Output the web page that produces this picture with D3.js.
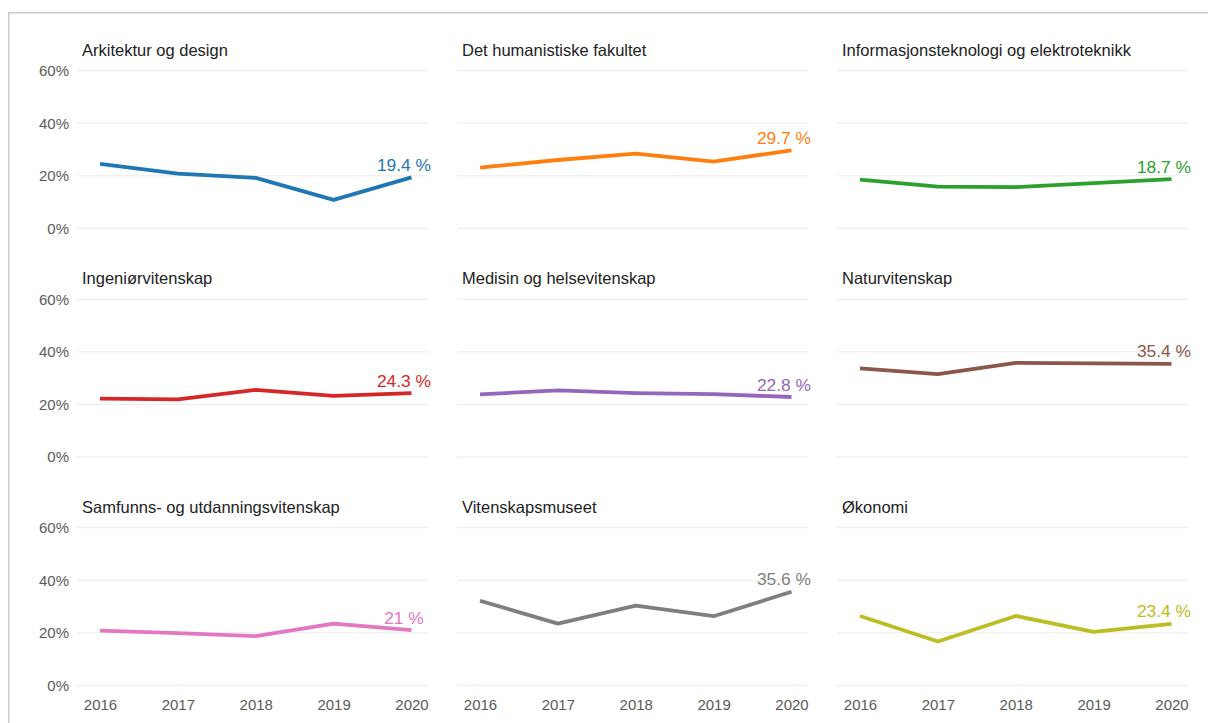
<!DOCTYPE html>
<html>
<head>
<meta charset="utf-8">
<script src="https://cdn.jsdelivr.net/npm/d3@7"></script>
<style>
  html, body { margin: 0; padding: 0; background: #fff; }
  svg { display: block; font-family: "Liberation Sans", Arial, Helvetica, sans-serif; }
</style>
</head>
<body>
<svg id="chart" width="1208" height="723"></svg>
<script>
// Share (%) per faculty, 2016–2020
const years = ["2016", "2017", "2018", "2019", "2020"];
const faculties = [
  "Arkitektur og design",
  "Det humanistiske fakultet",
  "Informasjonsteknologi og elektroteknikk",
  "Ingeniørvitenskap",
  "Medisin og helsevitenskap",
  "Naturvitenskap",
  "Samfunns- og utdanningsvitenskap",
  "Vitenskapsmuseet",
  "Økonomi"
];
const arkitektur     = [24.5, 20.8, 19.2, 10.8, 19.4];
const humanistiske   = [23.1, 26.0, 28.4, 25.4, 29.7];
const informasjon    = [18.5, 15.9, 15.7, 17.2, 18.7];
const ingenior       = [22.2, 21.9, 25.5, 23.2, 24.3];
const medisin        = [23.8, 25.3, 24.3, 23.9, 22.8];
const naturvitenskap = [33.7, 31.5, 35.8, 35.6, 35.4];
const samfunns       = [20.8, 19.9, 18.7, 23.5, 21.0];
const museet         = [32.2, 23.5, 30.3, 26.3, 35.6];
const okonomi        = [26.4, 16.7, 26.4, 20.3, 23.4];
const yTicks = [0, 20, 40, 60];
const yTickLabels = ["0%", "20%", "40%", "60%"];

const seriesValues = [arkitektur, humanistiske, informasjon, ingenior, medisin,
                      naturvitenskap, samfunns, museet, okonomi];
const colors = d3.schemeCategory10;

const svg = d3.select("#chart");

// outer frame
svg.append("rect")
  .attr("x", 8.75).attr("y", 12.75)
  .attr("width", 1400).attr("height", 1000)
  .attr("fill", "none").attr("stroke", "#cccccc").attr("stroke-width", 1.5);

// panel geometry
const colLeft = [77, 457, 837];
const panelW = 351;
const rowTop = [70.7, 299.3, 527.7];
const panelH = 157.6;

faculties.forEach((name, i) => {
  const col = i % 3, row = Math.floor(i / 3);
  const x0 = colLeft[col], y0 = rowTop[row];
  const g = svg.append("g").attr("transform", `translate(${x0},${y0})`);

  const x = d3.scalePoint().domain(years).range([23, 334.5]);
  const y = d3.scaleLinear().domain([0, 60]).range([panelH, 0]);
  const color = colors[i];
  const vals = seriesValues[i];

  // gridlines
  g.selectAll("line.grid").data(yTicks).join("line")
    .attr("class", "grid")
    .attr("x1", 0).attr("x2", panelW)
    .attr("y1", d => y(d)).attr("y2", d => y(d))
    .attr("stroke", "#ebebeb").attr("stroke-width", 1);

  // y tick labels in the first column only
  if (col === 0) {
    const yAxis = d3.axisLeft(y).tickValues(yTicks)
      .tickFormat((d, k) => yTickLabels[k]).tickSize(0).tickPadding(8);
    const ya = g.append("g").call(yAxis);
    ya.select(".domain").remove();
    ya.selectAll("text")
      .attr("fill", "#5a5a5a").style("font-size", "15px")
      .style("font-family", "'Liberation Sans', Arial, sans-serif");
  }

  // x tick labels on the bottom row only
  if (row === 2) {
    const xAxis = d3.axisBottom(x).tickSize(0).tickPadding(14);
    const xa = g.append("g").attr("transform", `translate(0,${panelH})`).call(xAxis);
    xa.select(".domain").remove();
    xa.selectAll("text")
      .attr("fill", "#5a5a5a").style("font-size", "15px")
      .style("font-family", "'Liberation Sans', Arial, sans-serif");
  }

  // panel title
  g.append("text")
    .attr("x", 5).attr("y", -15)
    .attr("fill", "#222").style("font-size", "16.5px")
    .text(name);

  // series line
  const line = d3.line().x((d, k) => x(years[k])).y(d => y(d));
  g.append("path")
    .datum(vals)
    .attr("d", line)
    .attr("fill", "none").attr("stroke", color)
    .attr("stroke-width", 3.8)
    .attr("stroke-linejoin", "round").attr("stroke-linecap", "butt");

  // end value label
  const last = vals[vals.length - 1];
  g.append("text")
    .attr("x", x(years[years.length - 1]) - 7.5)
    .attr("y", y(last) - 6.5)
    .attr("text-anchor", "middle")
    .attr("fill", color).style("font-size", "17.4px")
    .text(`${last} %`);
});
</script>
</body>
</html>
